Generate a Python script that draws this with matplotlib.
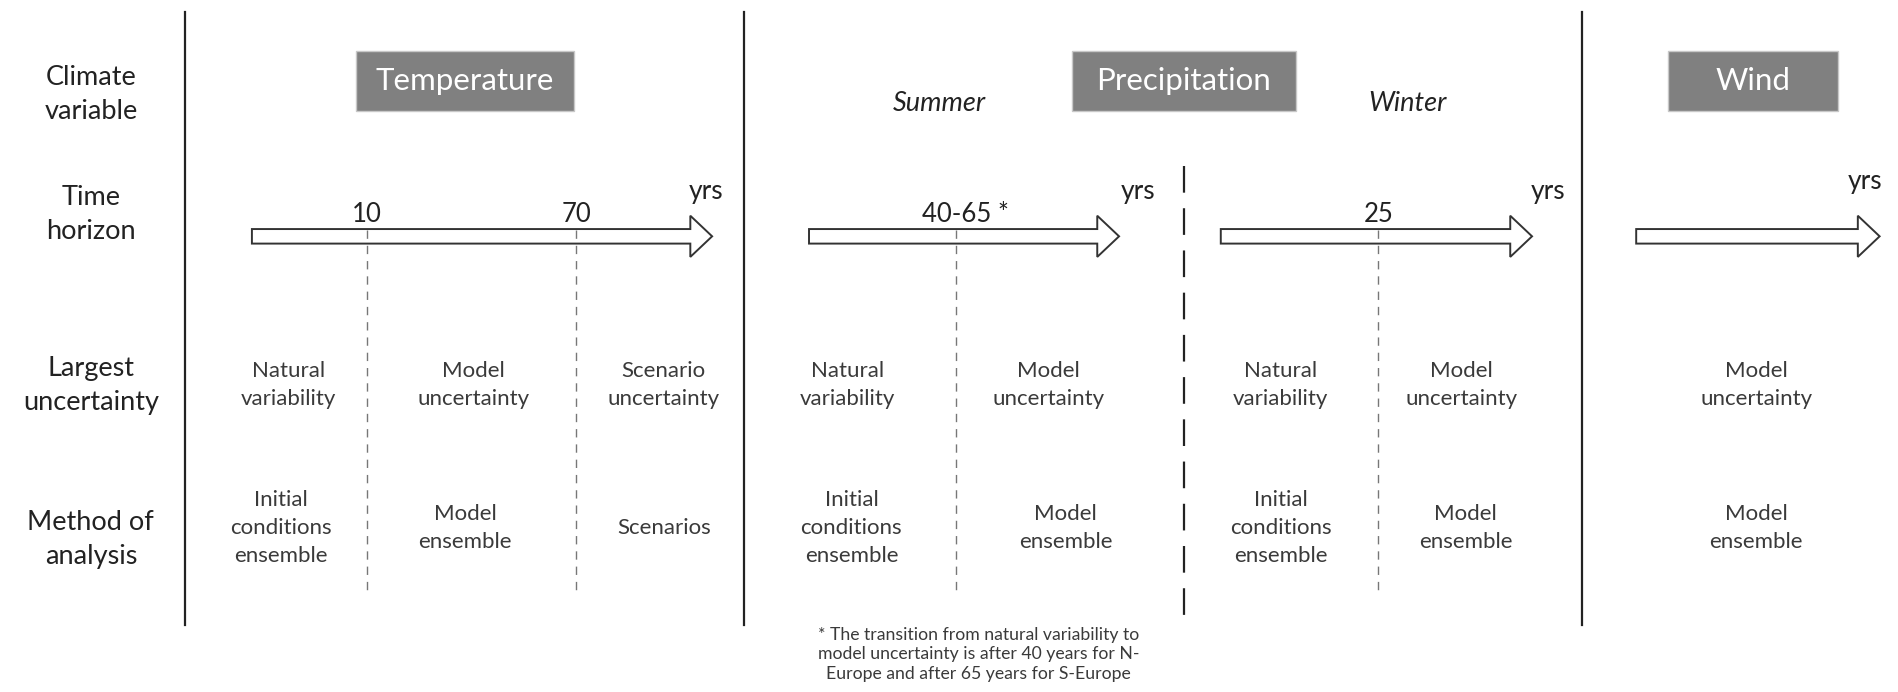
import matplotlib.pyplot as plt
from matplotlib.patches import FancyArrow, Rectangle

plt.rcParams['font.family'] = ['Lato', 'DejaVu Sans']

# Row headings on the left
row_labels = ["Climate\nvariable", "Time\nhorizon", "Largest\nuncertainty", "Method of\nanalysis"]
row_y = [78, 177, 318, 445]

# Climate variables (grey boxes)
variables = ["Temperature", "Precipitation", "Wind"]
box_x = [(294, 474), (885, 1070), (1377, 1518)]

# Seasons for precipitation
seasons = ["Summer", "Winter"]
season_x = [776, 1162]

# Time horizon arrows: start, end, transition labels and their positions
arrow_span = [(208, 588), (668, 924), (1008, 1265), (1351, 1552)]
yrs_x = [583, 940, 1278, 1540]
yrs_y = [158, 158, 158, 150]
horizon_labels = ["10", "70", "40-65 *", "25"]
horizon_x = [303, 476, 789, 1138]
horizon_label_x = [303, 476, 797, 1138]

# Largest uncertainty / method of analysis per column
uncertainty = ["Natural\nvariability", "Model\nuncertainty", "Scenario\nuncertainty",
               "Natural\nvariability", "Model\nuncertainty",
               "Natural\nvariability", "Model\nuncertainty",
               "Model\nuncertainty"]
uncertainty_x = [238, 391, 548, 700, 866, 1057, 1207, 1450]
method = ["Initial\nconditions\nensemble", "Model\nensemble", "Scenarios",
          "Initial\nconditions\nensemble", "Model\nensemble",
          "Initial\nconditions\nensemble", "Model\nensemble",
          "Model\nensemble"]
method_x = [232, 384, 548, 703, 880, 1058, 1210, 1450]

footnote = ("* The transition from natural variability to\n"
            "model uncertainty is after 40 years for N-\n"
            "Europe and after 65 years for S-Europe")

fig = plt.figure(figsize=(18.99, 6.92), dpi=100)
ax = fig.add_axes([0, 0, 1, 1])
ax.set_xlim(0, 1568)
ax.set_ylim(571, 0)
ax.axis('off')

txt = '#3a3a3a'
dark = '#222222'

for lab, y in zip(row_labels, row_y):
    ax.text(75, y, lab, ha='center', va='center', fontsize=19.5, color=dark,
            linespacing=1.45)

# vertical separators
for x in [153, 614, 1306]:
    ax.plot([x, x], [10, 516], color=dark, lw=1.6)
ax.plot([978, 978], [137, 516], color=dark, lw=1.6, dashes=(12, 7))

for name, (x0, x1) in zip(variables, box_x):
    ax.add_patch(Rectangle((x0, 42), x1 - x0, 50, fc='#808080', ec='#c8c8c8', lw=1))
    ax.text((x0 + x1) / 2, 67, name, ha='center', va='center', fontsize=22.5, color='white')

for s, x in zip(seasons, season_x):
    ax.text(x, 85, s, ha='center', va='center', fontsize=19.5, style='italic', color=dark)

for (x0, x1), yx, yy in zip(arrow_span, yrs_x, yrs_y):
    ax.add_patch(FancyArrow(x0, 195, x1 - x0, 0, width=12, head_width=34, head_length=18,
                            length_includes_head=True, fc='white', ec='#333333', lw=1.4))
    ax.text(yx, yy, "yrs", ha='center', va='center', fontsize=19, color=dark)

for lab, x, lx in zip(horizon_labels, horizon_x, horizon_label_x):
    ax.text(lx, 177, lab, ha='center', va='center', fontsize=18.5, color=dark)
    ax.plot([x, x], [190, 488], color='#777777', lw=1.0, dashes=(6, 5))

for lab, x in zip(uncertainty, uncertainty_x):
    ax.text(x, 318, lab, ha='center', va='center', fontsize=16, color=txt, linespacing=1.5)

for lab, x in zip(method, method_x):
    ax.text(x, 436, lab, ha='center', va='center', fontsize=16, color=txt, linespacing=1.5)

ax.text(808, 540, footnote, ha='center', va='center', fontsize=12.7, color=txt, linespacing=1.25)

fig.savefig('out.png', dpi=100)
